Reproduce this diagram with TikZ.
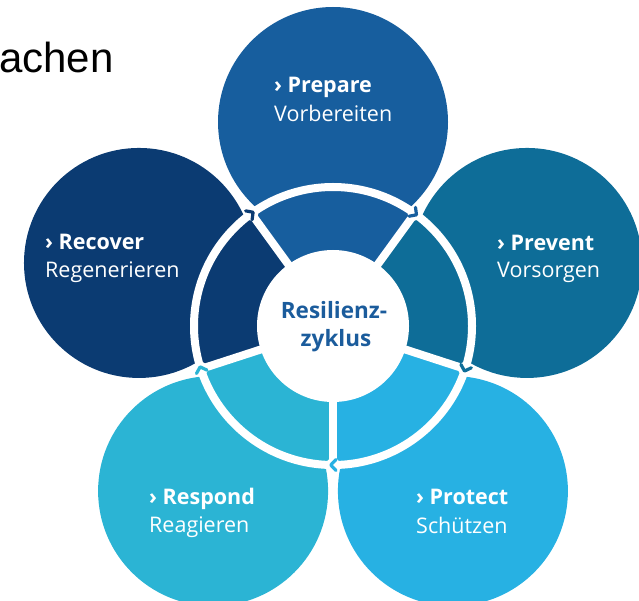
\documentclass[tikz,border=0pt]{standalone}
\usepackage{fontspec}
\setmainfont{Open Sans}
\newfontfamily\arialfont{Liberation Sans}
\usetikzlibrary{calc}

\definecolor{prepareblue}{HTML}{175E9E}
\definecolor{recovernavy}{HTML}{0B3B72}
\definecolor{preventteal}{HTML}{0E6D98}
\definecolor{protectsky}{HTML}{27B1E3}
\definecolor{respondcyan}{HTML}{2BB4D4}
\definecolor{hubtext}{HTML}{1B5C9C}

\begin{document}
\begin{tikzpicture}[x=1pt,y=1pt,
  petal/.style={circle, minimum size=230pt, inner sep=0pt, fill=#1},
  gap/.style={white, line width=8pt},
  chev/.style={line width=3.2pt, line cap=round, line join=round, draw=#1},
  head/.style={anchor=base west, text=white, inner sep=0pt,
    font=\fontsize{21.5}{25}\selectfont\bfseries},
  sub/.style={anchor=base west, text=white, inner sep=0pt,
    font=\fontsize{21.5}{25}\selectfont},
  hublabel/.style={anchor=base, text=hubtext, inner sep=0pt,
    font=\fontsize{22.5}{26}\selectfont\bfseries},
]
\useasboundingbox (0,0) rectangle (639,600);
\clip (0,0) rectangle (639,600);

\coordinate (hub) at (333,274);

% outer petals of the cycle
\node[petal=prepareblue] (prepare) at ($(hub)+(90:204)$) {};
\node[petal=preventteal] (prevent) at ($(hub)+(18:204)$) {};
\node[petal=protectsky]  (protect) at ($(hub)+(-54:204)$) {};
\node[petal=respondcyan] (respond) at ($(hub)+(-126:204)$) {};
\node[petal=recovernavy] (recover) at ($(hub)+(162:204)$) {};

% ring sectors, one per phase
\foreach \a/\c in {90/prepareblue, 18/preventteal, -54/protectsky,
                   -126/respondcyan, 162/recovernavy}{
  \fill[\c, shift={(hub)}]
    (\a-36:70) arc[start angle=\a-36, end angle=\a+36, radius=70]
    -- (\a+36:139) arc[start angle=\a+36, end angle=\a-36, radius=139]
    -- cycle;
}

% junctions where the spokes meet the ring
\foreach \s in {54,126,198,270,342}{
  \coordinate (j\s) at ($(hub)+(\s:139)$);
}

% white separating ring and spokes
\draw[gap] (hub) circle[radius=139];
\foreach \s in {54,126,198,270,342}{
  \draw[gap] ($(hub)+(\s:60)$) -- (j\s);
  \fill[white] (j\s) circle[radius=7];
}

% central disk
\node[circle, fill=white, minimum size=152pt, inner sep=0pt] (hubdisk) at (hub) {};

% small direction chevrons (clockwise cycle)
\foreach \s/\c in {126/recovernavy, 54/prepareblue, 342/preventteal,
                   270/protectsky, 198/respondcyan}{
  \begin{scope}[shift={(j\s)}, rotate=\s-90]
    \draw[chev=\c] (-3,5.5) -- (2.2,0) -- (-3,-5.5);
  \end{scope}
}

% centre label
\node[hublabel] (hubA) at (334,281) {Resilienz-};
\node[hublabel] (hubB) at (336,253) {zyklus};

% phase labels
\node[head] (prepareA) at (274,507) {› Prepare};
\node[sub]  (prepareB) at (274,478) {Vorbereiten};
\node[head] (recoverA) at (45,350) {› Recover};
\node[sub]  (recoverB) at (45,322) {Regenerieren};
\node[head] (preventA) at (497,349) {› Prevent};
\node[sub]  (preventB) at (497,322) {Vorsorgen};
\node[head] (respondA) at (149,96) {› Respond};
\node[sub]  (respondB) at (149,68) {Reagieren};
\node[head] (protectA) at (416,96) {› Protect};
\node[sub]  (protectB) at (416,67) {Schützen};

% heading fragment at the top left
\node[anchor=base west, inner sep=0pt, font=\arialfont\fontsize{42}{50}\selectfont]
  (titlefrag) at (-1,527) {achen};
\end{tikzpicture}
\end{document}
